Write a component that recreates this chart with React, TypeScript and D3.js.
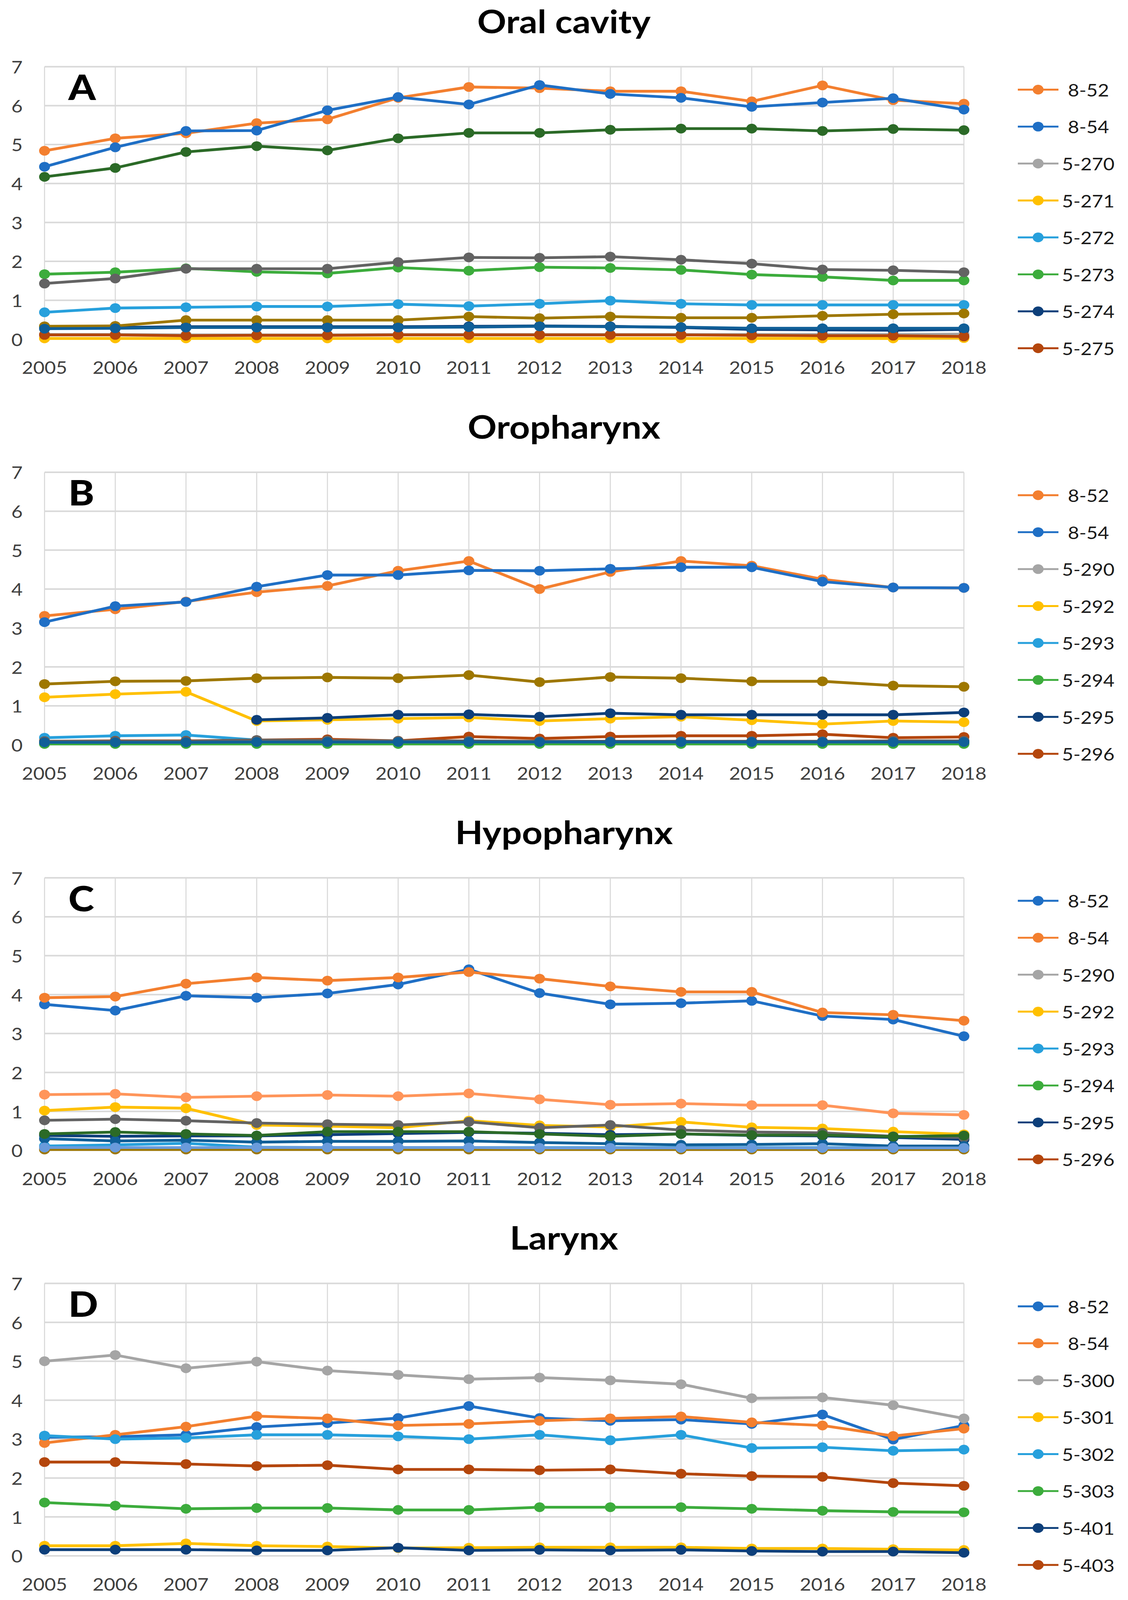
import * as d3 from "d3";

// ---- shared axis data ----
const years = [2005, 2006, 2007, 2008, 2009, 2010, 2011, 2012, 2013, 2014, 2015, 2016, 2017, 2018];
const yTicks = [0, 1, 2, 3, 4, 5, 6, 7];

// ---- colours ----
const ORANGE = "#F37F2F";
const BLUE = "#1F6FC5";
const GRAY = "#A5A5A5";
const GOLD = "#FFC000";
const LIGHT_BLUE = "#27A0DC";
const GREEN = "#3CAC3C";
const NAVY = "#0D3F7A";
const BROWN = "#B4460C";
const DARK_GRAY = "#636363";
const DARK_GOLD = "#9E7700";
const MED_BLUE = "#105F98";
const DARK_GREEN = "#2B6A27";
const LIGHT_ORANGE = "#FF955A";
const CORNFLOWER = "#6A9BDB";

// ---- A: Oral cavity ----
const oral852 = [4.84, 5.16, 5.29, 5.55, 5.65, 6.2, 6.48, 6.45, 6.37, 6.37, 6.11, 6.52, 6.14, 6.05];
const oral854 = [4.43, 4.93, 5.35, 5.36, 5.88, 6.22, 6.03, 6.53, 6.3, 6.2, 5.97, 6.08, 6.19, 5.9];
const oral5270 = [0.12, 0.12, 0.11, 0.11, 0.11, 0.12, 0.12, 0.12, 0.12, 0.12, 0.12, 0.12, 0.12, 0.13];
const oral5271 = [0.02, 0.02, 0.02, 0.02, 0.02, 0.02, 0.02, 0.02, 0.02, 0.02, 0.02, 0.02, 0.02, 0.03];
const oral5272 = [0.69, 0.8, 0.82, 0.84, 0.84, 0.9, 0.85, 0.91, 0.99, 0.91, 0.88, 0.88, 0.88, 0.88];
const oral5273 = [1.67, 1.72, 1.82, 1.73, 1.69, 1.84, 1.76, 1.85, 1.83, 1.78, 1.66, 1.6, 1.51, 1.51];
const oral5274 = [0.3, 0.3, 0.32, 0.32, 0.32, 0.32, 0.33, 0.34, 0.33, 0.3, 0.25, 0.24, 0.23, 0.25];
const oral5275 = [0.11, 0.11, 0.09, 0.1, 0.1, 0.11, 0.11, 0.11, 0.11, 0.11, 0.1, 0.09, 0.09, 0.07];
const oralExtraGray = [1.43, 1.56, 1.81, 1.81, 1.81, 1.98, 2.1, 2.09, 2.12, 2.04, 1.94, 1.79, 1.77, 1.72];
const oralExtraGold = [0.33, 0.34, 0.49, 0.49, 0.49, 0.49, 0.58, 0.54, 0.58, 0.55, 0.55, 0.6, 0.64, 0.66];
const oralExtraBlue = [0.27, 0.28, 0.3, 0.3, 0.3, 0.3, 0.31, 0.33, 0.32, 0.31, 0.28, 0.28, 0.28, 0.28];
const oralExtraGreen = [4.17, 4.4, 4.81, 4.96, 4.85, 5.16, 5.3, 5.3, 5.38, 5.41, 5.41, 5.35, 5.4, 5.37];

// ---- B: Oropharynx ----
const oro852 = [3.31, 3.48, 3.68, 3.92, 4.08, 4.47, 4.72, 4.0, 4.44, 4.72, 4.6, 4.25, 4.04, 4.03];
const oro854 = [3.15, 3.56, 3.67, 4.06, 4.36, 4.36, 4.48, 4.47, 4.52, 4.56, 4.56, 4.19, 4.04, 4.03];
const oro5290 = [0.06, 0.06, 0.06, 0.06, 0.06, 0.06, 0.06, 0.06, 0.06, 0.06, 0.06, 0.06, 0.06, 0.06];
const oro5292 = [1.22, 1.3, 1.36, 0.61, 0.64, 0.67, 0.7, 0.61, 0.67, 0.72, 0.63, 0.53, 0.61, 0.58];
const oro5293 = [0.18, 0.23, 0.25, 0.12, 0.08, 0.08, 0.08, 0.08, 0.08, 0.08, 0.08, 0.08, 0.08, 0.08];
const oro5294 = [0.02, 0.02, 0.02, 0.02, 0.02, 0.02, 0.02, 0.02, 0.02, 0.02, 0.02, 0.02, 0.02, 0.02];
const oro5295 = [null, null, null, 0.64, 0.69, 0.77, 0.78, 0.72, 0.81, 0.77, 0.77, 0.77, 0.77, 0.83];
const oro5296 = [0.09, 0.1, 0.1, 0.12, 0.14, 0.1, 0.21, 0.16, 0.21, 0.23, 0.23, 0.27, 0.18, 0.2];
const oroExtraGold = [1.56, 1.63, 1.64, 1.71, 1.73, 1.71, 1.79, 1.61, 1.74, 1.71, 1.63, 1.63, 1.52, 1.49];
const oroExtraBlue = [0.06, 0.06, 0.06, 0.07, 0.07, 0.07, 0.07, 0.07, 0.07, 0.07, 0.07, 0.07, 0.07, 0.07];
const oroExtraGray = [0.09, 0.09, 0.09, 0.12, 0.11, 0.1, 0.1, 0.09, 0.09, 0.09, 0.09, 0.09, 0.1, 0.1];

// ---- C: Hypopharynx ----
const hypo852 = [3.75, 3.59, 3.97, 3.92, 4.03, 4.26, 4.65, 4.04, 3.75, 3.78, 3.84, 3.45, 3.36, 2.93];
const hypo854 = [3.92, 3.95, 4.28, 4.44, 4.36, 4.44, 4.58, 4.41, 4.21, 4.07, 4.07, 3.54, 3.48, 3.33];
const hypo5290 = [0.05, 0.05, 0.05, 0.05, 0.05, 0.05, 0.05, 0.05, 0.05, 0.05, 0.05, 0.05, 0.05, 0.05];
const hypo5292 = [1.02, 1.11, 1.08, 0.65, 0.62, 0.58, 0.76, 0.64, 0.6, 0.73, 0.59, 0.56, 0.48, 0.41];
const hypo5293 = [0.11, 0.14, 0.18, 0.08, 0.07, 0.07, 0.07, 0.07, 0.07, 0.07, 0.07, 0.07, 0.07, 0.07];
const hypo5294 = [0.04, 0.04, 0.04, 0.04, 0.04, 0.04, 0.04, 0.04, 0.04, 0.04, 0.04, 0.04, 0.04, 0.04];
const hypo5295 = [0.38, 0.36, 0.37, 0.37, 0.4, 0.43, 0.46, 0.44, 0.4, 0.42, 0.38, 0.37, 0.33, 0.28];
const hypo5296 = [0.03, 0.03, 0.03, 0.03, 0.03, 0.03, 0.03, 0.03, 0.03, 0.03, 0.03, 0.03, 0.03, 0.03];
const hypoExtraGray = [0.77, 0.8, 0.76, 0.7, 0.67, 0.65, 0.73, 0.58, 0.65, 0.52, 0.47, 0.45, 0.36, 0.33];
const hypoExtraGold = [0.02, 0.02, 0.02, 0.02, 0.02, 0.02, 0.02, 0.02, 0.02, 0.02, 0.02, 0.02, 0.02, 0.02];
const hypoExtraBlue = [0.3, 0.24, 0.26, 0.21, 0.23, 0.23, 0.24, 0.2, 0.17, 0.14, 0.15, 0.17, 0.11, 0.11];
const hypoExtraGreen = [0.42, 0.47, 0.42, 0.38, 0.48, 0.48, 0.48, 0.42, 0.36, 0.42, 0.39, 0.39, 0.35, 0.38];
const hypoExtraCornflower = [0.07, 0.07, 0.07, 0.07, 0.07, 0.07, 0.07, 0.06, 0.06, 0.06, 0.06, 0.06, 0.06, 0.06];
const hypoExtraOrange = [1.43, 1.45, 1.36, 1.39, 1.42, 1.39, 1.46, 1.31, 1.17, 1.2, 1.16, 1.16, 0.95, 0.91];

// ---- D: Larynx ----
const lar852 = [3.05, 3.06, 3.11, 3.31, 3.41, 3.54, 3.85, 3.54, 3.47, 3.5, 3.39, 3.63, 2.99, 3.35];
const lar854 = [2.9, 3.11, 3.32, 3.59, 3.53, 3.35, 3.39, 3.47, 3.53, 3.58, 3.43, 3.35, 3.08, 3.27];
const lar5300 = [5.0, 5.16, 4.82, 4.99, 4.76, 4.65, 4.54, 4.58, 4.51, 4.41, 4.05, 4.07, 3.87, 3.53];
const lar5301 = [0.26, 0.26, 0.32, 0.26, 0.24, 0.2, 0.21, 0.22, 0.22, 0.22, 0.19, 0.19, 0.17, 0.15];
const lar5302 = [3.09, 3.0, 3.03, 3.11, 3.11, 3.07, 3.0, 3.11, 2.97, 3.11, 2.77, 2.79, 2.7, 2.73];
const lar5303 = [1.37, 1.29, 1.21, 1.23, 1.23, 1.18, 1.18, 1.25, 1.25, 1.25, 1.21, 1.16, 1.13, 1.12];
const lar5401 = [0.16, 0.16, 0.16, 0.14, 0.14, 0.21, 0.14, 0.155, 0.14, 0.155, 0.125, 0.11, 0.11, 0.08];
const lar5403 = [2.41, 2.41, 2.36, 2.31, 2.33, 2.22, 2.22, 2.2, 2.22, 2.11, 2.05, 2.03, 1.87, 1.8];

type Series = { name: string; color: string; values: (number | null)[]; legend: boolean };
type PanelDef = { title: string; letter: string; series: Series[] };

const s = (name: string, color: string, values: (number | null)[], legend = true): Series => ({
  name,
  color,
  values,
  legend,
});

const panels: PanelDef[] = [
  {
    title: "Oral cavity",
    letter: "A",
    series: [
      s("8-52", ORANGE, oral852),
      s("8-54", BLUE, oral854),
      s("5-270", GRAY, oral5270),
      s("5-271", GOLD, oral5271),
      s("5-272", LIGHT_BLUE, oral5272),
      s("5-273", GREEN, oral5273),
      s("5-274", NAVY, oral5274),
      s("5-275", BROWN, oral5275),
      s("extra-9", DARK_GRAY, oralExtraGray, false),
      s("extra-10", DARK_GOLD, oralExtraGold, false),
      s("extra-11", MED_BLUE, oralExtraBlue, false),
      s("extra-12", DARK_GREEN, oralExtraGreen, false),
    ],
  },
  {
    title: "Oropharynx",
    letter: "B",
    series: [
      s("8-52", ORANGE, oro852),
      s("8-54", BLUE, oro854),
      s("5-290", GRAY, oro5290),
      s("5-292", GOLD, oro5292),
      s("5-293", LIGHT_BLUE, oro5293),
      s("5-294", GREEN, oro5294),
      s("5-295", NAVY, oro5295),
      s("5-296", BROWN, oro5296),
      s("extra-9", DARK_GRAY, oroExtraGray, false),
      s("extra-10", DARK_GOLD, oroExtraGold, false),
      s("extra-11", MED_BLUE, oroExtraBlue, false),
    ],
  },
  {
    title: "Hypopharynx",
    letter: "C",
    series: [
      s("8-52", BLUE, hypo852),
      s("8-54", ORANGE, hypo854),
      s("5-290", GRAY, hypo5290),
      s("5-292", GOLD, hypo5292),
      s("5-293", LIGHT_BLUE, hypo5293),
      s("5-294", GREEN, hypo5294),
      s("5-295", NAVY, hypo5295),
      s("5-296", BROWN, hypo5296),
      s("extra-9", DARK_GRAY, hypoExtraGray, false),
      s("extra-10", DARK_GOLD, hypoExtraGold, false),
      s("extra-11", MED_BLUE, hypoExtraBlue, false),
      s("extra-12", DARK_GREEN, hypoExtraGreen, false),
      s("extra-13", CORNFLOWER, hypoExtraCornflower, false),
      s("extra-14", LIGHT_ORANGE, hypoExtraOrange, false),
    ],
  },
  {
    title: "Larynx",
    letter: "D",
    series: [
      s("8-52", BLUE, lar852),
      s("8-54", ORANGE, lar854),
      s("5-300", GRAY, lar5300),
      s("5-301", GOLD, lar5301),
      s("5-302", LIGHT_BLUE, lar5302),
      s("5-303", GREEN, lar5303),
      s("5-401", NAVY, lar5401),
      s("5-403", BROWN, lar5403),
    ],
  },
];

// layout (reference pixels; the svg is fitted to the viewport)
const WIDTH = 2887;
const HEIGHT = 4604;
const PANEL_H = 1167;
const plot = { left: 114, right: 2467, top: 192, bottom: 976 };
const FONT = "Lato, 'Open Sans', 'DejaVu Sans', sans-serif";

const xScale = d3
  .scalePoint<number>()
  .domain(years)
  .range([plot.left, plot.right]);
const yScale = d3.scaleLinear().domain([0, 7]).range([plot.bottom, plot.top]);

const line = d3
  .line<number | null>()
  .defined((d) => d !== null)
  .x((_, i) => xScale(years[i]) ?? 0)
  .y((d) => yScale(d as number));

const Panel = ({ def, offset }: { def: PanelDef; offset: number }) => {
  const legendItems = def.series.filter((d) => d.legend);
  return (
    <g transform={`translate(0,${offset})`}>
      <text x={WIDTH / 2} y={95} textAnchor="middle" fontSize={92} fontWeight={700} fill="#000">
        {def.title}
      </text>

      {/* grid */}
      {years.map((yr) => (
        <line
          key={`v-${yr}`}
          x1={xScale(yr)}
          x2={xScale(yr)}
          y1={plot.top}
          y2={plot.bottom}
          stroke="#D6D6D6"
          strokeWidth={2.5}
        />
      ))}
      {yTicks.map((t) => (
        <line
          key={`h-${t}`}
          x1={plot.left}
          x2={plot.right}
          y1={yScale(t)}
          y2={yScale(t)}
          stroke="#D9D9D9"
          strokeWidth={4.5}
        />
      ))}

      {/* y labels */}
      {yTicks.map((t) => (
        <text
          key={`yl-${t}`}
          x={58}
          y={yScale(t)}
          textAnchor="end"
          dominantBaseline="central"
          fontSize={50}
          fill="#404040"
        >
          {t}
        </text>
      ))}

      {/* x labels */}
      {years.map((yr) => (
        <text key={`xl-${yr}`} x={xScale(yr)} y={1076} textAnchor="middle" fontSize={50} fill="#404040">
          {yr}
        </text>
      ))}

      {/* series */}
      {def.series.map((ser) => (
        <g key={ser.name}>
          <path
            d={line(ser.values) ?? ""}
            fill="none"
            stroke={ser.color}
            strokeWidth={8}
            strokeLinejoin="round"
          />
          {ser.values.map((v, i) =>
            v === null ? null : (
              <circle key={i} cx={xScale(years[i])} cy={yScale(v)} r={14} fill={ser.color} />
            )
          )}
        </g>
      ))}

      {/* panel letter */}
      <text x={175} y={288} fontSize={100} fontWeight={900} fill="#000">
        {def.letter}
      </text>

      {/* legend */}
      {legendItems.map((ser, i) => {
        const cy = 258 + i * 106.3;
        return (
          <g key={`lg-${ser.name}`}>
            <line x1={2605} x2={2709} y1={cy} y2={cy} stroke={ser.color} strokeWidth={5.5} />
            <circle cx={2657} cy={cy} r={14} fill={ser.color} />
            <text
              x={ser.name.startsWith("8") ? 2733 : 2718}
              y={cy}
              dominantBaseline="central"
              fontSize={50}
              fill="#1a1a1a"
            >
              {ser.name}
            </text>
          </g>
        );
      })}
    </g>
  );
};

export default function App() {
  // the browser viewport is shorter than the chart, so the whole figure is
  // fitted into it (width 100%, height 100vh)
  return (
    <svg
      viewBox={`0 0 ${WIDTH} ${HEIGHT}`}
      preserveAspectRatio="none"
      style={{
        position: "absolute",
        left: 0,
        top: 0,
        width: "100vw",
        height: "100vh",
        display: "block",
      }}
      fontFamily={FONT}
    >
      <rect width={WIDTH} height={HEIGHT} fill="#fff" />
      {panels.map((p, i) => (
        <Panel key={p.letter} def={p} offset={i * PANEL_H} />
      ))}
    </svg>
  );
}
